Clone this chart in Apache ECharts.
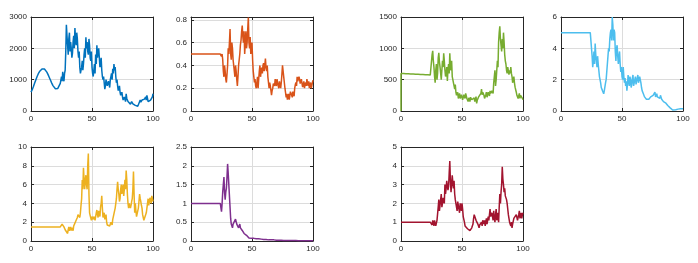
<!DOCTYPE html>
<html>
<head>
<meta charset="utf-8">
<script src="https://cdn.jsdelivr.net/npm/echarts@6/dist/echarts.min.js"></script>
<style>
html,body{margin:0;padding:0;background:#fff;}
#chart{width:698px;height:263px;}
</style>
</head>
<body>
<div id="chart"></div>
<script>
// x positions 0..100 (one value per unit); "Mid" arrays hold the readings at x = 25.5, 26.5, ... 99.5
const xValues = Array.from({length: 101}, (_, i) => i);
const midStart = 25;

const blueY = [600,680,780,890,1000,1100,1190,1260,1310,1340,1350,1340,1300,1240,1160,1070,980,890,810,750,710,700,720,780,880,
1100,1250,950,1300,2750,2100,2300,1900,2000,1850,2400,2650,2100,2300,1700,1400,1150,1600,1500,2000,2350,2200,1800,2100,1600,1400,
1100,1500,1800,2100,1900,1700,1500,1300,1000,900,800,950,750,850,1000,1200,1350,1500,1400,900,800,700,600,500,450,380,400,550,350,280,
300,250,280,220,250,200,130,200,300,280,350,400,380,450,500,300,280,350,400,550];
const blueMid = [950,1050,1200,1900,2400,1800,2500,2200,1700,2200,2000,2300,2500,1900,1900,1200,1400,1300,1800,1700,2000,1900,2300,1700,1900,
1200,1300,1200,1500,1700,2000,1400,1700,1100,1100,700,1000,800,950,750,1100,1000,1200,1300,1100,1000,650,800,500,600,
350,450,300,400,300,250,220,300,230,280,180,230,150,250,350,320,300,330,420,350,400,250,330,300,450];

const orangeY = [0.5,0.5,0.5,0.5,0.5,0.5,0.5,0.5,0.5,0.5,0.5,0.5,0.5,0.5,0.5,0.5,0.5,0.5,0.5,0.5,0.5,0.5,0.5,0.5,0.5,
0.48,0.45,0.3,0.35,0.25,0.4,0.5,0.72,0.45,0.55,0.4,0.3,0.35,0.22,0.4,0.5,0.62,0.75,0.6,0.5,0.7,0.6,0.82,0.55,0.5,0.6,
0.35,0.25,0.22,0.25,0.2,0.35,0.3,0.38,0.4,0.35,0.46,0.35,0.3,0.2,0.22,0.14,0.2,0.25,0.28,0.22,0.25,0.2,0.23,0.25,0.4,0.3,0.2,0.12,0.1,0.15,
0.13,0.18,0.12,0.15,0.2,0.25,0.3,0.27,0.28,0.25,0.24,0.22,0.2,0.25,0.28,0.22,0.2,0.25,0.22,0.27];
const orangeMid = [0.5,0.35,0.4,0.28,0.32,0.55,0.6,0.5,0.6,0.45,0.35,0.4,0.28,0.3,0.45,0.58,0.7,0.65,0.7,0.6,0.55,0.72,0.6,0.65,0.55,
0.45,0.3,0.28,0.2,0.3,0.28,0.4,0.35,0.33,0.42,0.4,0.38,0.4,0.25,0.25,0.18,0.18,0.24,0.22,0.24,0.28,0.22,0.26,0.2,0.32,
0.35,0.25,0.16,0.15,0.13,0.1,0.17,0.14,0.17,0.13,0.23,0.22,0.26,0.3,0.24,0.28,0.21,0.26,0.23,0.22,0.25,0.26,0.23,0.2,0.25];

const greenStart = [0, 0];
const greenY = [600,599,598,597,596,595,594,593,592,591,590,589,588,587,586,585,584,583,582,581,580,579,578,577,576,
575,960,700,450,750,600,930,700,500,800,920,650,600,480,750,920,650,550,450,350,300,250,200,280,220,250,
200,230,280,200,150,180,220,180,160,210,180,120,200,250,230,350,300,250,220,300,250,280,320,250,350,450,650,500,800,1100,
1350,1050,1150,1250,900,750,600,700,650,700,550,500,450,350,250,200,280,250,220,180];
const greenMid = [900,800,550,650,500,850,780,600,650,700,800,550,700,650,600,700,800,500,400,420,250,300,240,200,260,
180,260,200,240,230,210,150,200,210,190,150,230,170,220,190,280,260,330,200,260,220,300,240,280,320,
280,550,400,650,700,1250,1150,950,1000,1100,800,650,700,580,600,600,450,550,380,300,280,230,200,280,200];

const skyY = [5,5,5,5,5,5,5,5,5,5,5,5,5,5,5,5,5,5,5,5,5,5,5,5,5,
5,2.8,3.8,4.3,3.2,3.5,2.6,2.0,1.5,1.3,1.1,1.4,2.0,3.0,4.0,4.6,5.2,6.0,4.5,5.0,3.2,4.2,3.0,3.8,2.5,2.2,
2.8,1.8,1.6,1.3,2.3,1.6,2.0,1.7,2.3,1.8,2.2,1.9,2.3,2.0,2.1,1.5,1.2,1.0,0.8,0.75,0.7,0.75,0.8,0.9,0.9,1.0,1.2,1.0,0.9,1.0,
0.8,0.9,0.7,0.6,0.55,0.5,0.4,0.3,0.25,0.15,0.1,0.08,0.05,0.08,0.1,0.12,0.1,0.15,0.12,0.15];
const skyMid = [3.5,3.2,3.0,3.6,2.8,3.0,2.2,1.8,1.4,1.2,1.3,1.8,2.5,3.5,3.8,5.0,4.5,5.5,5.2,3.8,4.0,3.5,3.5,3.0,2.8,
2.0,2.2,2.1,1.9,1.7,1.9,2.2,1.5,2.1,1.6,2.0,1.7,2.1,1.8,2.2,1.8,1.3,1.1,0.9,0.85,0.65,0.8,0.7,0.9,0.8,
1.0,1.1,0.9,1.1,0.85,0.9,1.0,0.75,0.8,0.5,0.6,0.45,0.35,0.28,0.2,0.12,0.06,0.1,0.07,0.12,0.08,0.15,0.12,0.1,0.18];

const yellowY = [1.5,1.5,1.5,1.5,1.5,1.5,1.5,1.5,1.5,1.5,1.5,1.5,1.5,1.5,1.5,1.5,1.5,1.5,1.5,1.5,1.5,1.5,1.5,1.5,1.5,
1.6,1.9,1.5,1.2,1.0,0.8,1.5,1.3,1.1,1.3,1.6,1.9,2.2,2.5,3.0,2.5,3.8,6.5,7.8,5.5,7.0,5.5,9.3,3.0,2.5,2.6,
2.3,2.8,2.4,3.3,2.5,3.0,3.6,4.8,2.5,3.0,2.5,2.0,1.6,1.7,1.8,1.9,2.3,2.8,3.5,4.5,6.3,5.0,4.5,6.0,5.2,4.8,6.5,7.5,5.0,3.5,
4.2,3.8,4.5,7.4,3.0,3.2,2.7,3.5,5.0,4.2,3.5,2.5,2.0,2.2,3.5,4.5,4.0,4.3,4.8,4.2];
const yellowMid = [1.8,1.6,1.7,1.0,1.3,1.2,1.1,1.5,1.4,1.1,1.4,2.0,2.0,2.8,2.6,3.0,4.5,5.5,6.5,6.5,6.0,8.0,5.0,2.7,2.2,
2.4,2.6,2.2,3.0,2.8,3.2,2.6,4.0,3.5,2.7,2.3,2.8,1.7,1.9,1.6,2.0,1.7,2.6,3.2,4.0,5.5,5.5,4.2,5.5,5.0,
6.0,5.5,5.5,6.5,4.0,4.0,3.5,4.2,5.5,5.0,4.0,2.6,3.2,4.2,4.5,3.8,2.8,2.2,2.4,3.0,4.0,3.8,4.6,4.0,4.5];

const purpleY = [1,1,1,1,1,1,1,1,1,1,1,1,1,1,1,1,1,1,1,1,1,1,1,1,1,
0.78,1.3,1.7,1.1,1.4,2.05,1.5,0.9,0.45,0.35,0.45,0.5,0.55,0.4,0.35,0.45,0.3,0.28,0.25,0.22,0.2,0.12,0.1,0.08,0.1,0.08,
0.09,0.08,0.09,0.07,0.08,0.07,0.06,0.06,0.05,0.05,0.05,0.04,0.04,0.04,0.035,0.03,0.03,0.03,0.025,0.02,0.02,0.02,0.02,0.018,0.018,0.016,0.016,0.015,0.015,0.014,
0.013,0.012,0.012,0.011,0.01,0.01,0.01,0.009,0.009,0.008,0.008,0.008,0.007,0.007,0.006,0.006,0.006,0.005,0.005,0.005];
const purpleMid = [1.0,1.5,1.3,1.3,1.7,1.8,1.2,0.6,0.4,0.45,0.4,0.58,0.45,0.5,0.4,0.35,0.35,0.3,0.2,0.25,0.15,0.14,0.08,0.11,0.07,
0.1,0.07,0.1,0.06,0.09,0.06,0.08,0.05,0.07,0.04,0.06,0.04,0.05,0.03,0.045,0.03,0.035,0.025,0.03,0.02,0.025];

const redY = [1,1,1,1,1,1,1,1,1,1,1,1,1,1,1,1,1,1,1,1,1,1,1,1,1,
1.0,1.1,0.8,1.0,0.9,1.2,2.2,1.7,2.5,2.0,2.4,3.0,2.8,3.3,2.9,4.25,2.6,3.5,2.8,2.5,2.0,1.6,2.0,1.5,1.8,2.0,
1.3,1.0,0.9,0.7,0.6,0.65,0.6,0.7,0.9,1.4,1.3,1.2,0.9,0.7,0.8,1.0,1.1,0.9,0.8,1.2,1.0,1.1,1.7,1.2,1.4,1.6,1.0,1.7,1.3,1.0,
2.5,2.6,3.95,3.0,2.8,2.5,2.0,1.4,1.0,0.8,0.7,1.0,1.3,1.2,1.3,1.2,1.6,1.3,1.2,1.5];
const redMid = [0.85,1.0,1.1,0.8,1.1,1.8,1.6,2.2,1.8,2.3,2.0,2.5,3.2,2.7,3.6,3.2,3.0,3.1,3.2,2.2,1.9,2.1,1.7,2.0,1.6,
1.7,1.2,0.8,0.8,0.65,0.7,0.55,0.65,0.8,1.2,1.35,1.1,1.0,0.8,0.85,0.9,0.8,1.0,1.1,1.0,0.9,1.3,1.2,1.3,1.5,
1.1,1.2,1.4,1.1,1.5,1.8,2.0,3.0,3.3,2.6,2.4,2.2,1.7,1.2,0.9,1.0,0.9,1.2,1.1,1.4,1.1,1.4,1.2,1.5,1.4];

const xTicks = {min: 0, max: 100, interval: 50};

const panels = [
  {y: blueY,   mid: blueMid,   color: '#0072BD', min: 0, max: 3000, interval: 1000, left: 31,  top: 17},
  {y: orangeY, mid: orangeMid, color: '#D95319', min: 0, max: 0.825, interval: 0.2, left: 191, top: 17},
  {y: greenY,  mid: greenMid,  color: '#77AC30', min: 0, max: 1500, interval: 500,  left: 401, top: 17, start: greenStart},
  {y: skyY,    mid: skyMid,    color: '#4DBEEE', min: 0, max: 6, interval: 2,       left: 561, top: 17},
  {y: yellowY, mid: yellowMid, color: '#EDB120', min: 0, max: 10, interval: 2,      left: 31,  top: 147},
  {y: purpleY, mid: purpleMid, color: '#7E2F8E', min: 0, max: 2.5, interval: 0.5,   left: 191, top: 147},
  {y: redY,    mid: redMid,    color: '#A2142F', min: 0, max: 5, interval: 1,       left: 401, top: 147}
];

const axisColor = '#262626';
const gridColor = '#dcdcdc';
const labelFont = 'Liberation Sans, Arial, sans-serif';
const grids = [], xAxes = [], yAxes = [], series = [];

panels.forEach((p, i) => {
  grids.push({left: p.left, top: p.top, width: 122, height: 94, containLabel: false});
  const isTick = (v, iv) => Math.abs(v / iv - Math.round(v / iv)) < 1e-6;
  xAxes.push({
    type: 'value', gridIndex: i, min: xTicks.min, max: xTicks.max, interval: xTicks.interval,
    axisLine: {show: true, onZero: false, lineStyle: {color: axisColor, width: 1}},
    axisTick: {show: true, inside: true, length: 3, lineStyle: {color: axisColor}},
    splitLine: {show: true, lineStyle: {color: gridColor, width: 1}},
    axisLabel: {fontSize: 8, color: axisColor, margin: 4, fontFamily: labelFont}
  });
  xAxes.push({
    type: 'value', gridIndex: i, position: 'top', min: xTicks.min, max: xTicks.max, interval: xTicks.interval,
    axisLine: {show: true, onZero: false, lineStyle: {color: axisColor, width: 1}},
    axisTick: {show: true, inside: true, length: 3, lineStyle: {color: axisColor}},
    splitLine: {show: false}, axisLabel: {show: false}
  });
  const iv = p.interval;
  yAxes.push({
    type: 'value', gridIndex: i, min: p.min, max: p.max, interval: iv,
    axisLine: {show: true, onZero: false, lineStyle: {color: axisColor, width: 1}},
    axisTick: {show: true, inside: true, length: 3, lineStyle: {color: axisColor}},
    splitLine: {show: true, lineStyle: {color: gridColor, width: 1}},
    axisLabel: {fontSize: 8, color: axisColor, margin: 4, fontFamily: labelFont,
      formatter: v => isTick(v, iv) ? String(+v.toFixed(4)) : ''}
  });
  yAxes.push({
    type: 'value', gridIndex: i, position: 'right', min: p.min, max: p.max, interval: iv,
    axisLine: {show: true, onZero: false, lineStyle: {color: axisColor, width: 1}},
    axisTick: {show: true, inside: true, length: 3, lineStyle: {color: axisColor}},
    splitLine: {show: false}, axisLabel: {show: false}
  });
  const data = [];
  if (p.start) data.push(p.start);
  xValues.forEach((x, k) => {
    data.push([x, p.y[k]]);
    const m = p.mid[k - midStart];
    if (k >= midStart && m !== undefined && k < 100) data.push([x + 0.5, m]);
  });
  series.push({
    type: 'line', xAxisIndex: 2 * i, yAxisIndex: 2 * i, data: data,
    showSymbol: false, symbol: 'none', lineStyle: {color: p.color, width: 1.5},
    itemStyle: {color: p.color}, clip: true, silent: true
  });
});

const chart = echarts.init(document.getElementById('chart'), null, {renderer: 'canvas'});
chart.setOption({
  animation: false,
  backgroundColor: '#ffffff',
  grid: grids, xAxis: xAxes, yAxis: yAxes, series: series
});
</script>
</body>
</html>
